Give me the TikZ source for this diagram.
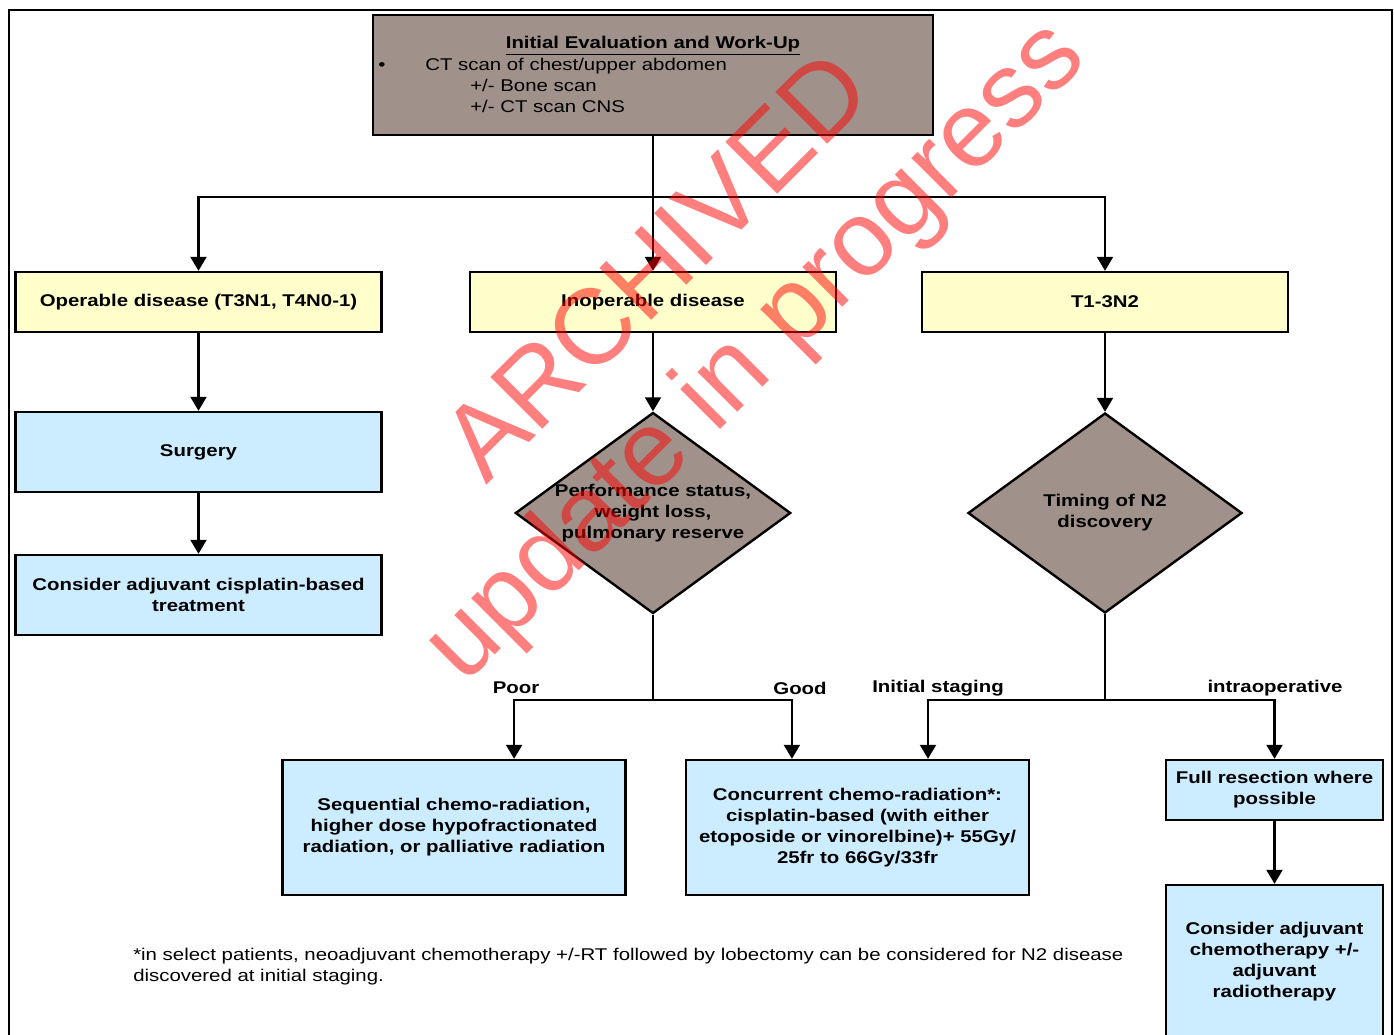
\documentclass[tikz,border=0pt]{standalone}
\usepackage{fontspec}
\setmainfont{Liberation Sans}[FakeStretch=1.2]
\newfontfamily\stampfont{Liberation Sans}
\usetikzlibrary{shapes.geometric,arrows.meta,calc}
\definecolor{boxgrey}{RGB}{160,146,138}
\definecolor{boxyellow}{RGB}{255,255,204}
\definecolor{boxblue}{RGB}{204,236,255}
\newcommand{\chartfont}{\fontsize{12.75pt}{15.75pt}\selectfont}
\begin{document}
\begin{tikzpicture}[x=0.75pt,y=0.75pt,yscale=-1,xscale=1,
    box/.style={draw, line width=1.8pt, inner sep=0pt, align=center, font=\chartfont\bfseries},
    greybox/.style={box, fill=boxgrey},
    yellowbox/.style={box, fill=boxyellow, minimum width=274.5pt, minimum height=45pt},
    bluebox/.style={box, fill=boxblue},
    decision/.style={box, diamond, fill=boxgrey, aspect=1.37, minimum width=205.5pt, minimum height=150pt},
    arr/.style={line width=1.6pt, -{Triangle[width=12pt,length=10.5pt]}},
    conn/.style={line width=1.6pt},
    lbl/.style={font=\chartfont\bfseries, inner sep=0pt},
    txt/.style={font=\chartfont, inner sep=0pt},
    stamp/.style={font=\stampfont\fontsize{80pt}{80pt}\selectfont, text=red, text opacity=0.5, inner sep=0pt, rotate=45, anchor=base west}
  ]
            \useasboundingbox (0,0) rectangle (1394,1034);
            \clip (0,0) rectangle (1394,1034);
            % Frame
            \draw[line width=2.2pt] (9,1040) -- (9,10) -- (1392,10) -- (1392,1040); % open at the bottom

            % Work-up box
            \node[greybox, minimum width=420pt, minimum height=90pt] (init) at (653,75) {};
            \node[lbl, anchor=base] (ititle) at (653,49) {\underline{Initial Evaluation and Work-Up}};
            \node[txt, anchor=base west] (ibul) at (378,71) {\textbullet};
            \node[txt, anchor=base west] (ict) at (425,71) {CT scan of chest/upper abdomen};
            \node[txt, anchor=base west] (ibone) at (470,92) {+/- Bone scan};
            \node[txt, anchor=base west] (icns) at (470,113) {+/- CT scan CNS};

            % Disease groups
            \node[yellowbox] (oper) at (198.5,302) {Operable disease (T3N1, T4N0-1)};
            \node[yellowbox] (inop) at (653,302) {Inoperable disease};
            \node[yellowbox] (tn2) at (1105,302) {T1-3N2};
            \coordinate (split) at (653,197);
            \draw[arr] (init) -- (inop);
            \draw[arr] (split) -| (oper);
            \draw[arr] (split) -| (tn2);

            % Operable
            \node[bluebox, minimum width=274.5pt, minimum height=60pt] (surg) at (198.5,452) {Surgery};
            \node[bluebox, minimum width=274.5pt, minimum height=60pt] (adjcis) at (198.5,595) {Consider adjuvant cisplatin-based\\treatment};
            \draw[arr] (oper) -- (surg);
            \draw[arr] (surg) -- (adjcis);

            % Inoperable
            \node[decision] (perf) at (653,513) {Performance status,\\weight loss,\\pulmonary reserve};
            \node[bluebox, minimum width=257.25pt, minimum height=101.25pt] (seq) at (454,827.5) {Sequential chemo-radiation,\\higher dose hypofractionated\\radiation, or palliative radiation};
            \node[bluebox, minimum width=257.25pt, minimum height=101.25pt] (conc) at (857.5,827.5) {Concurrent chemo-radiation*:\\cisplatin-based (with either\\etoposide or vinorelbine)+ 55Gy/\\25fr to 66Gy/33fr};
            \coordinate (pjoin) at (653,700);
            \draw[arr] (inop) -- (perf);
            \draw[conn] (perf) -- (pjoin);
            \draw[arr] (pjoin) -| (perf.west |- seq.north);
            \draw[arr] (pjoin) -| (perf.east |- conc.north);
            \node[lbl] (poor) at (516,688) {Poor};
            \node[lbl] (good) at (800,688) {Good};

            % T1-3N2
            \node[decision] (timing) at (1105,513) {Timing of N2\\discovery};
            \node[bluebox, minimum width=162.75pt, minimum height=45pt] (fullres) at (1274.5,790) {Full resection where\\possible};
            \node[bluebox, minimum width=162.75pt, minimum height=114.75pt] (adjchemo) at (1274.5,961.5) {Consider adjuvant\\chemotherapy +/-\\adjuvant\\radiotherapy};
            \coordinate (tjoin) at (1105,700);
            \draw[arr] (tn2) -- (timing);
            \draw[conn] (timing) -- (tjoin);
            \draw[arr] (tjoin) -| ($(conc.north)+(70.5,0)$);
            \draw[arr] (tjoin) -| (fullres);
            \draw[arr] (fullres) -- (adjchemo);
            \node[lbl] (initst) at (938,688) {Initial staging};
            \node[lbl] (intraop) at (1275,688) {intraoperative};

            % Footnote
            \node[txt, anchor=north west, align=left] (note) at (133,948) {*in select patients, neoadjuvant chemotherapy +/-RT followed by lobectomy can be considered for N2 disease\\discovered at initial staging.};

            % Watermark
            \node[stamp] (wmarch) at (486,486) {ARCHIVED};
            \node[stamp] (wmupd) at (464,686) {update in progress};
        \end{tikzpicture}
\end{document}
